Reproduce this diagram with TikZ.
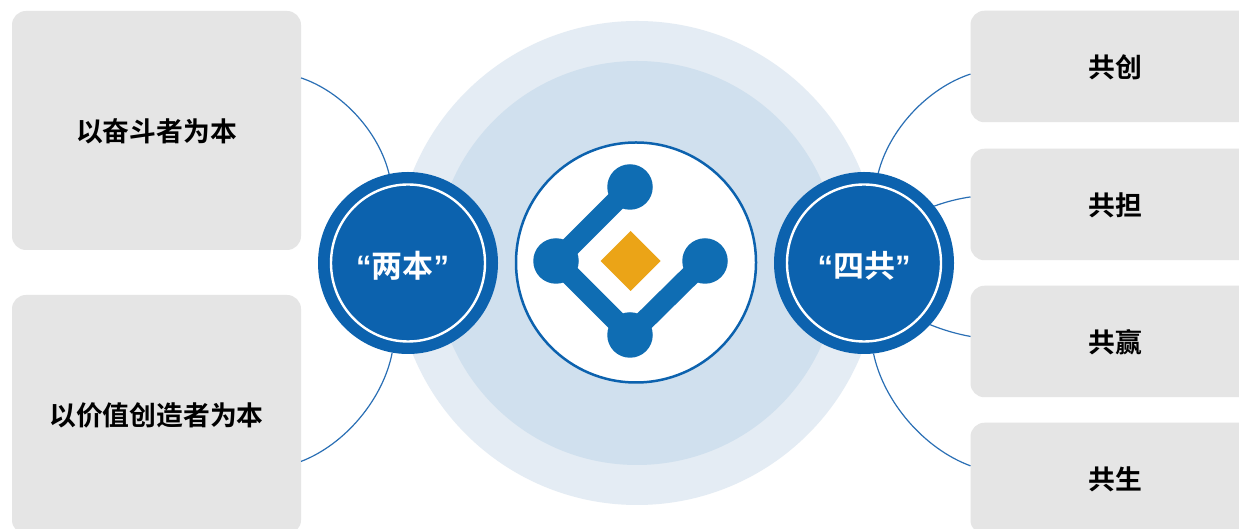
\documentclass[tikz,border=0pt]{standalone}
\usepackage{fontspec}
\setmainfont{Noto Sans CJK SC}[BoldFont={Noto Sans CJK SC Bold}]
\newfontfamily\quotefont{Liberation Sans}[BoldFont={Liberation Sans Bold}]
\usetikzlibrary{shapes.geometric}
\definecolor{boxgray}{HTML}{E5E5E5}
\definecolor{haloa}{HTML}{E4ECF4}
\definecolor{halob}{HTML}{D0E0EE}
\definecolor{mainblue}{HTML}{0C62AE}
\definecolor{linkblue}{HTML}{2A6FB5}
\definecolor{logoblue}{HTML}{0F6DB3}
\definecolor{logoorange}{HTML}{EBA417}
\newcommand{\openq}{{\quotefont “}}
\newcommand{\closeq}{{\quotefont ”}}
\newcommand{\boxtext}[1]{\raisebox{-1pt}[\height][\depth]{#1}}
\newcommand{\hubtext}[1]{\raisebox{-3pt}[\height][\depth]{\openq #1\closeq}}
\tikzset{
  x=1pt,y=1pt,
  every node/.style={inner sep=0pt,outer sep=0pt},
  graybox/.style={rectangle,rounded corners=14pt,fill=boxgray,minimum width=289pt,font=\bfseries\fontsize{26.8pt}{30pt}\selectfont,text=black},
  tallbox/.style={graybox,minimum height=239pt},
  shortbox/.style={graybox,minimum height=111.5pt},
  hub/.style={ellipse,fill=mainblue,minimum width=180pt,minimum height=182pt,text=white,font=\bfseries\fontsize{31pt}{34pt}\selectfont},
  ring/.style={ellipse,draw=white,line width=2.4pt,minimum width=154pt,minimum height=157pt},
  link/.style={draw=linkblue,line width=1.2pt},
  arcbend/.style={looseness=0.85},
  logodot/.style={circle,fill=logoblue,minimum size=45.5pt},
  logobar/.style={draw=logoblue,line width=20.5pt,line cap=round},
}
\begin{document}
\begin{tikzpicture}
\useasboundingbox (0,0) rectangle (1239,529);
\clip (0,0) rectangle (1239,529);
\fill[white] (0,0) rectangle (1239,529);
% halos
\node[circle,fill=haloa,minimum size=484pt] (haloA) at (637,266) {};
\node[circle,fill=halob,minimum size=404pt] (haloB) at (637,266) {};
\node[circle,fill=white,draw=mainblue,line width=2.5pt,minimum size=240pt] (core) at (636,266.5) {};
% logo
\node[logodot] (top) at (630,342) {};
\node[logodot] (lft) at (556,268) {};
\node[logodot] (rgt) at (705,268) {};
\node[logodot] (bot) at (630,194) {};
\draw[logobar] (lft.center) -- (top.center);
\draw[logobar] (lft.center) -- (bot.center);
\draw[logobar] (bot.center) -- (rgt.center);
\node[diamond,fill=logoorange,minimum width=60pt,minimum height=60pt] (gem) at (630.5,268) {};
% boxes
\node[tallbox] (b1) at (156.5,398.5) {\boxtext{以奋斗者为本}};
\node[tallbox] (b2) at (156.5,114.5) {\boxtext{以价值创造者为本}};
\node[shortbox] (r1) at (1115,462.5) {\boxtext{共创}};
\node[shortbox] (r2) at (1115,324.5) {\boxtext{共担}};
\node[shortbox] (r3) at (1115,187.5) {\boxtext{共赢}};
\node[shortbox] (r4) at (1115,50.5) {\boxtext{共生}};
% hubs
\node[hub] (liang) at (408,266) {\hubtext{两本}\kern11pt};
\node[ring] (liangring) at (408,266) {};
\node[hub] (gong) at (864,266) {\hubtext{四共}};
\node[ring] (gongring) at (864,266) {};
% connectors
\draw[link] (b1.20) to[bend left=29,arcbend] (liang.102);
\draw[link] (b2.-18.2) to[bend right=29,arcbend] (liang.260.5);
\draw[link] (r1.183.4) to[bend right=29,arcbend] (gong.81.5);
\draw[link] (r2.177.8) to[bend right=6,arcbend] (gong.39.7);
\draw[link] (r3.178.6) to[bend left=6,arcbend] (gong.-43.6);
\draw[link] (r4.175.1) to[bend left=29,arcbend] (gong.-84);
\end{tikzpicture}
\end{document}
